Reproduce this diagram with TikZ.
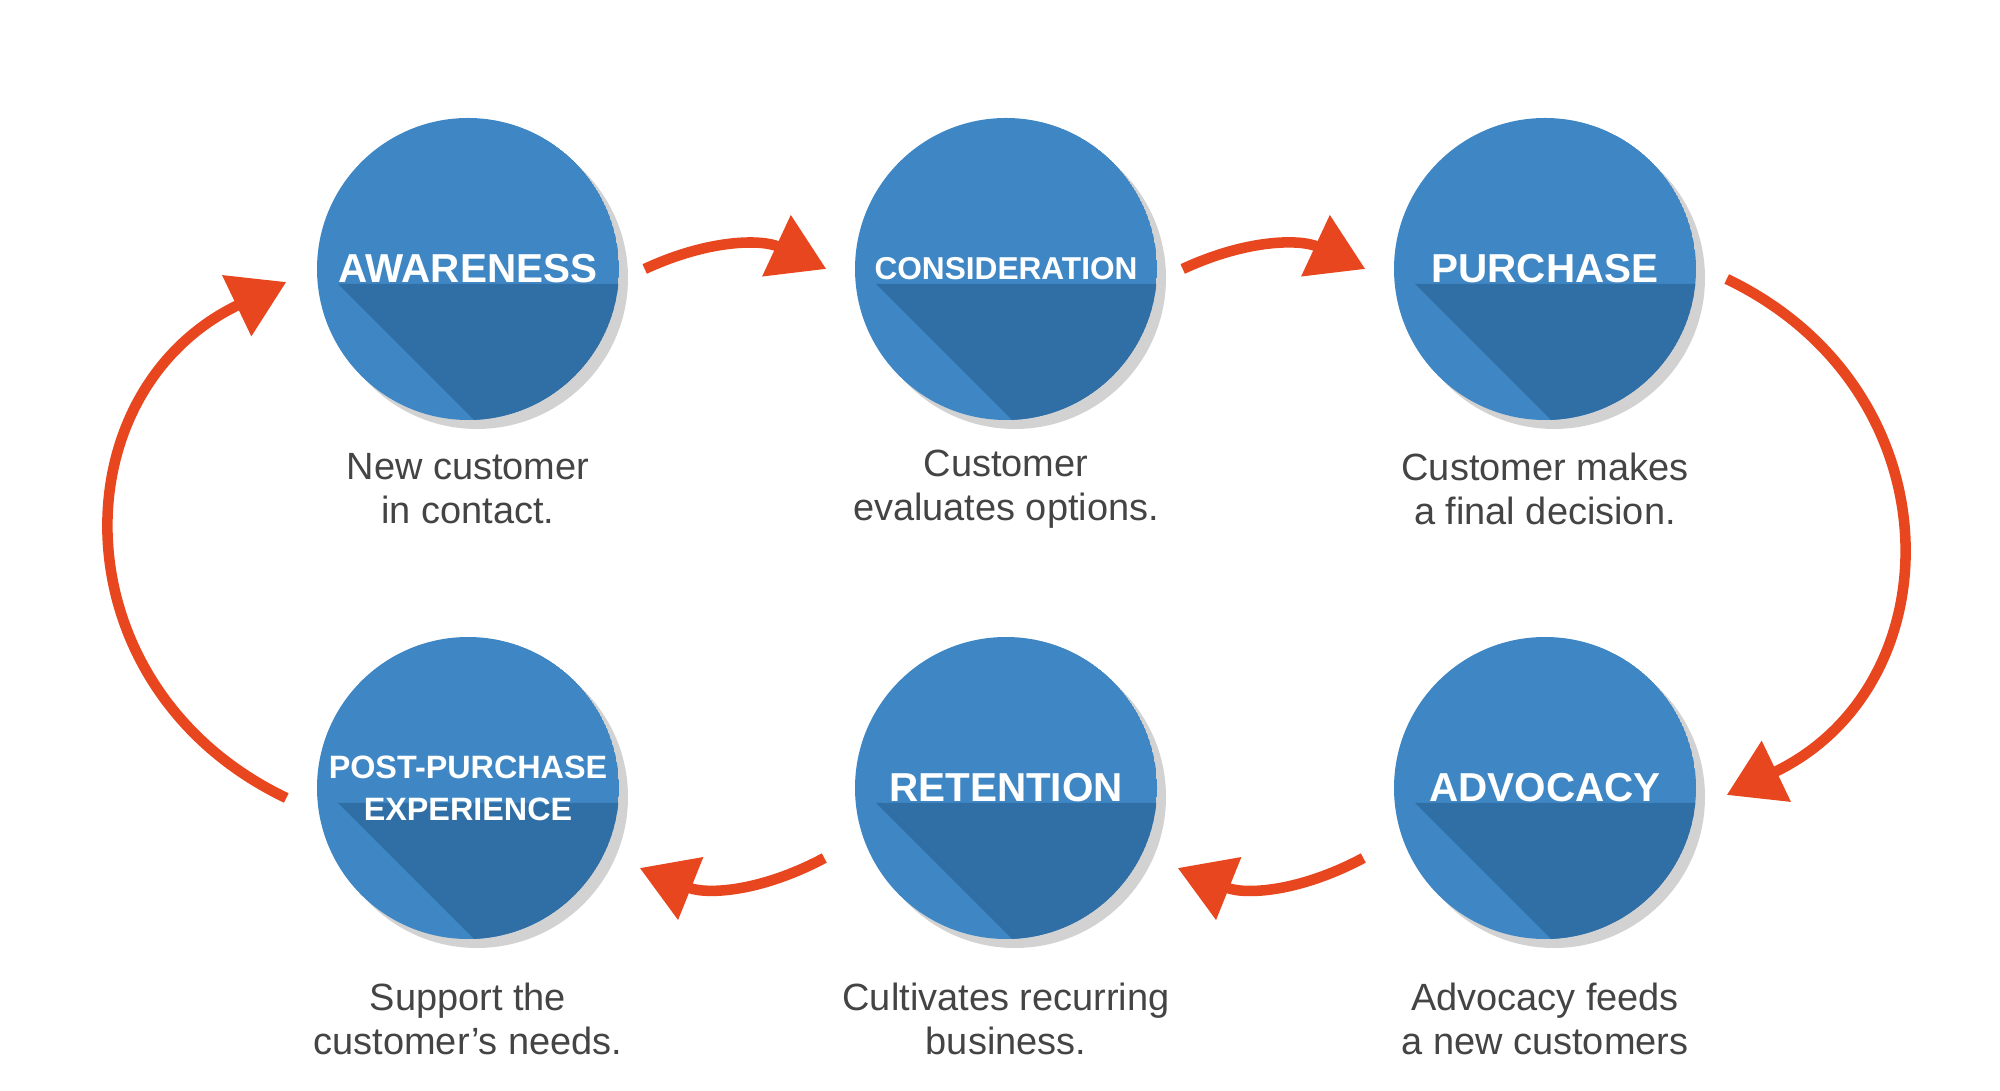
\documentclass[tikz,border=0pt]{standalone}
\usepackage{fontspec}
\setmainfont{Liberation Sans}
\usetikzlibrary{arrows.meta, positioning}
\definecolor{stageblue}{HTML}{3F87C4}
\definecolor{stagedark}{HTML}{2F6FA6}
\definecolor{flowred}{HTML}{E8461E}
\definecolor{notegray}{HTML}{444444}
\tikzset{
  stage/.style={circle, minimum size=3.02cm, inner sep=0pt, text=white, font=\bfseries, align=center},
  note/.style={text=notegray, font=\fontsize{10.8}{12.5}\selectfont, align=center},
  flow/.style={flowred, line width=3pt, -{Triangle[length=5.5mm, width=6.5mm]}}
}
\newcommand{\stagedisc}[2]{%
  \fill[gray!35] (#1+0.09,#2-0.09) circle (1.51);
  \begin{scope}
    \clip (#1,#2) circle (1.51);
    \fill[stageblue] (#1,#2) circle (1.51);
    \fill[stagedark] (#1-1.3,#2-0.15) -- (#1+2,#2-0.15) -- (#1+2,#2-3.45) -- cycle;
  \end{scope}}
\begin{document}
\begin{tikzpicture}
  \useasboundingbox (0,0) rectangle (20,10.91);
  % discs
  \foreach \x/\y in {4.68/8.22,10.06/8.22,15.45/8.22,4.68/3.03,10.06/3.03,15.45/3.03}
    {\stagedisc{\x}{\y}}
  % stages
  \node (aw)[stage, font=\bfseries\fontsize{11.5}{13}\selectfont] at (4.68,8.22) {AWARENESS};
  \node (co)[stage, font=\bfseries\fontsize{9}{11}\selectfont] at (10.06,8.22) {CONSIDERATION};
  \node (pu)[stage, font=\bfseries\fontsize{11.5}{13}\selectfont] at (15.45,8.22) {PURCHASE};
  \node (pp)[stage, font=\bfseries\fontsize{9.2}{12}\selectfont] at (4.68,3.03) {POST-PURCHASE\\EXPERIENCE};
  \node (re)[stage, font=\bfseries\fontsize{11.5}{13}\selectfont] at (10.06,3.03) {RETENTION};
  \node (ad)[stage, font=\bfseries\fontsize{11.5}{13}\selectfont] at (15.45,3.03) {ADVOCACY};
  % notes
  \node (n-aw)[note] at (4.68,6.02) {New customer\\in contact.};
  \node (n-co)[note] at (10.06,6.02) {Customer\\evaluates options.};
  \node (n-pu)[note] at (15.45,6.02) {Customer makes\\a final decision.};
  \node (n-pp)[note] at (4.68,0.72) {Support the\\customer’s needs.};
  \node (n-re)[note] at (10.06,0.72) {Cultivates recurring\\business.};
  \node (n-ad)[note] at (15.45,0.72) {Advocacy feeds\\a new customers};
  % arrows
  \draw[flow] ([xshift=2.5mm]aw.east) to[bend left=25] ([xshift=-2.8mm]co.west);
  \draw[flow] ([xshift=2.5mm]co.east) to[bend left=25] ([xshift=-2.8mm]pu.west);
  \draw[flow] ([xshift=3mm,yshift=-1mm]pu.east) .. controls +(2.3,-1.1) and +(2.3,1.1) .. ([xshift=3mm,yshift=-0.7mm]ad.east);
  \draw[flow] ([xshift=-3mm,yshift=-7mm]ad.west) to[bend left=25] ([xshift=2mm,yshift=-8mm]re.east);
  \draw[flow] ([xshift=-3mm,yshift=-7mm]re.west) to[bend left=25] ([xshift=2mm,yshift=-8mm]pp.east);
  \draw[flow] ([xshift=-3mm,yshift=-1mm]pp.west) .. controls +(-2.3,1.1) and +(-2.3,-1.1) .. ([xshift=-3mm,yshift=-1.3mm]aw.west);
\end{tikzpicture}
\end{document}
